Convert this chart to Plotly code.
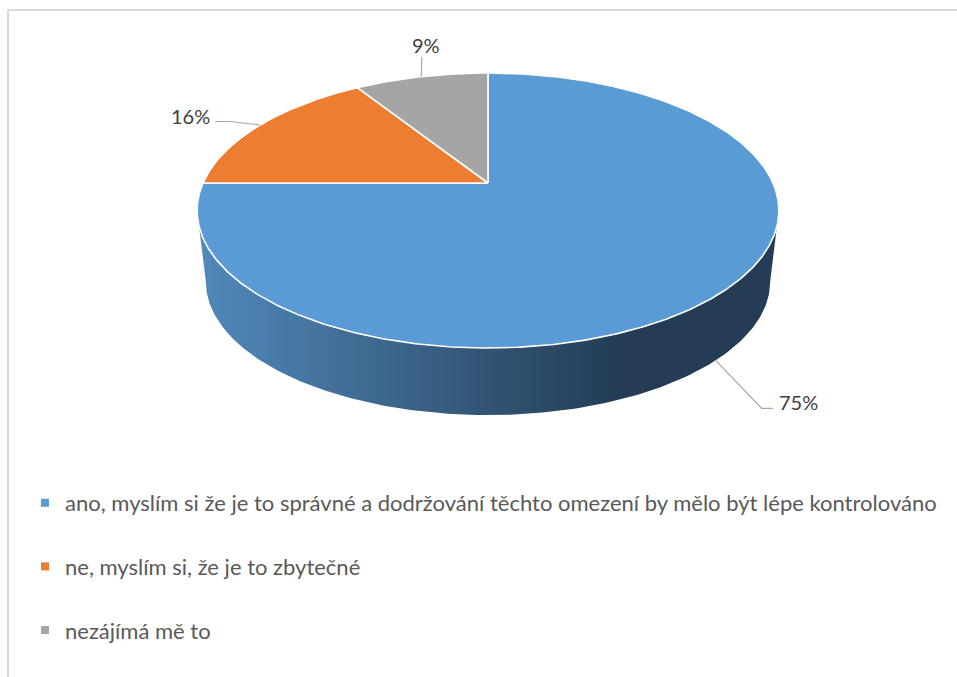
import numpy as np
import plotly.graph_objects as go

# ---- data -------------------------------------------------------------
categories = [
    "ano, myslím si že je to správné a dodržování těchto omezení by mělo být lépe kontrolováno",
    "ne, myslím si, že je to zbytečné",
    "nezájímá mě to",
]
shares = [75, 16, 9]          # percent
colors = ["#5B9BD5", "#ED7D31", "#A5A5A5"]

# ---- page / projection settings (axes are in page pixels) --------------
W, H = 957, 677
CX, CY = 488, 183             # projected centre of the top face
RX, RY = 285, 132             # radii of the disc before perspective
PERSP = 0.2                   # far edge shrinks by this factor
BOTTOM_SCALE = 0.97           # bottom face is slightly further away
BOTTOM_CY = 255               # projected centre of the bottom face
FONT = "Lato"


def top_pt(theta):
    """Point of the top rim, theta in degrees clockwise from 12 o'clock."""
    t = np.radians(theta)
    u, v = np.sin(t), np.cos(t)
    w = 1.0 / (1.0 + PERSP * v)
    return CX + RX * u * w, CY - RY * v * w


def bottom_pt(theta):
    t = np.radians(theta)
    u, v = np.sin(t), np.cos(t)
    w = BOTTOM_SCALE / (1.0 + PERSP * v)
    return CX + RX * u * w, BOTTOM_CY - RY * v * w


fig = go.Figure()

# ---- visible side wall (front part of the first slice) ------------------
tan_a = np.degrees(np.arccos(-PERSP))          # silhouette angles
tan_b = 360 - tan_a
ang_top = np.linspace(tan_a, tan_b, 200)
ang_bot = ang_top[::-1]
tx, ty = top_pt(ang_top)
bx, by = bottom_pt(ang_bot)
side_x = np.concatenate([tx, bx, tx[:1]])
side_y = np.concatenate([ty, by, ty[:1]])
fig.add_trace(go.Scatter(
    x=side_x, y=side_y, mode="lines", fill="toself",
    line=dict(width=0, color="rgba(0,0,0,0)"),
    fillgradient=dict(
        type="horizontal",
        colorscale=[[0, "#5189BB"], [1, "#243D55"]],
        start=float(side_x.min()), stop=615,
    ),
    hoverinfo="skip", showlegend=False,
))

# ---- top face slices ----------------------------------------------------
total = float(sum(shares))
start = 0.0
mids = []
for name, val, col in zip(categories, shares, colors):
    span = 360.0 * val / total
    ang = np.linspace(start, start + span, max(int(span * 2), 8))
    ax_, ay_ = top_pt(ang)
    xs = np.concatenate([[CX], ax_, [CX]])
    ys = np.concatenate([[CY], ay_, [CY]])
    fig.add_trace(go.Scatter(
        x=xs, y=ys, mode="lines", fill="toself", fillcolor=col,
        line=dict(color="white", width=1.6),
        hoverinfo="skip", showlegend=False,
    ))
    mids.append(start + span / 2)
    start += span

# ---- data labels with leader lines ------------------------------------
LEADER = "#A6A6A6"
LABEL_COL = "#404040"
for val, mid in zip(shares, mids):
    txt = f"{val}%"
    v = np.cos(np.radians(mid))
    if v < -0.3:
        # label below-right, leader starts on the lower rim
        x0, y0 = bottom_pt(mid)
        lx = [x0, x0 + 46, x0 + 57]
        ly = [y0, y0 + 48, y0 + 48]
        fig.add_annotation(x=lx[-1] + 4, y=ly[-1] - 6, text=txt, showarrow=False,
                           xanchor="left", yanchor="middle",
                           font=dict(family=FONT, size=20, color=LABEL_COL))
    elif np.sin(np.radians(mid)) < -0.7:
        # label to the left
        x0, y0 = top_pt(mid)
        lx = [x0, x0 - 30, x0 - 45]
        ly = [y0, y0 - 3.5, y0 - 3.5]
        fig.add_annotation(x=lx[-1] - 3, y=ly[-1] - 6, text=txt, showarrow=False,
                           xanchor="right", yanchor="middle",
                           font=dict(family=FONT, size=20, color=LABEL_COL))
    else:
        # label straight above
        x0, y0 = top_pt(mid)
        lx = [x0, x0 + 0.5]
        ly = [y0, y0 - 20]
        fig.add_annotation(x=lx[-1] + 4, y=ly[-1] - 12, text=txt, showarrow=False,
                           xanchor="center", yanchor="middle",
                           font=dict(family=FONT, size=20, color=LABEL_COL))
    fig.add_trace(go.Scatter(x=lx, y=ly, mode="lines",
                             line=dict(color=LEADER, width=1.2),
                             hoverinfo="skip", showlegend=False))

# ---- legend entries ------------------------------------------------------
for i, (name, col) in enumerate(zip(categories, colors)):
    fig.add_trace(go.Scatter(
        x=[None], y=[None], mode="markers", name=name,
        marker=dict(symbol="square", size=8, color=col),
        legendgroup=f"g{i}", showlegend=True,
    ))

# ---- chart frame ---------------------------------------------------------
frame = dict(color="#D9D9D9", width=2)
fig.add_shape(type="line", xref="x", yref="y", x0=8, y0=10, x1=W, y1=10, line=frame)
fig.add_shape(type="line", xref="x", yref="y", x0=8, y0=10, x1=8, y1=H, line=frame)

fig.update_layout(
    width=W, height=H,
    margin=dict(l=0, r=0, t=0, b=0),
    paper_bgcolor="white", plot_bgcolor="white",
    xaxis=dict(range=[0, W], visible=False, fixedrange=True),
    yaxis=dict(range=[H, 0], visible=False, fixedrange=True),
    showlegend=True,
    legend=dict(
        x=25 / W, y=1 - 482 / H, xanchor="left", yanchor="top",
        font=dict(family=FONT, size=22, color="#595959"),
        tracegroupgap=32, itemwidth=30,
        bgcolor="rgba(0,0,0,0)",
    ),
)

fig.write_html("out.html")
